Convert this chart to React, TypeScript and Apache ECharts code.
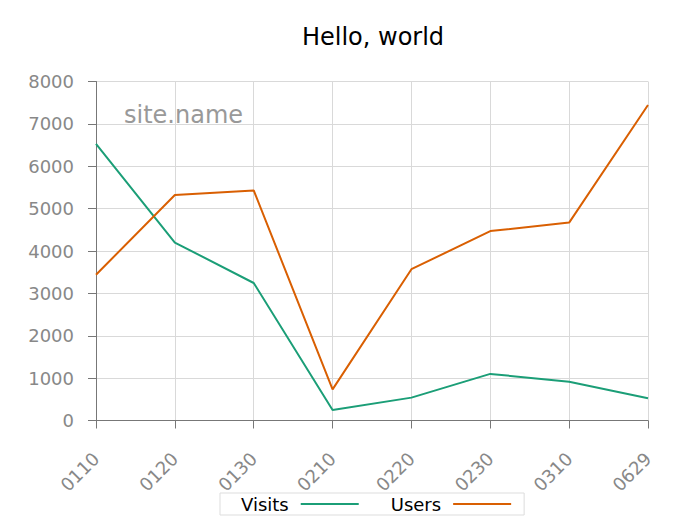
import React, { useEffect, useRef } from "react";
import * as echarts from "echarts";

const categories = ["0110", "0120", "0130", "0210", "0220", "0230", "0310", "0629"];
const visits = [6530, 4200, 3245, 250, 540, 1100, 915, 525];
const users = [3440, 5320, 5430, 735, 3570, 4470, 4670, 7445];
const yTicks = { min: 0, max: 8000, interval: 1000 };

const FONT = "DejaVu Sans";

export default function App() {
  const ref = useRef<HTMLDivElement>(null);
  useEffect(() => {
    if (!ref.current) return;
    const chart = echarts.init(ref.current, undefined, { renderer: "svg" });
    chart.setOption({
      animation: false,
      backgroundColor: "#ffffff",
      textStyle: { fontFamily: FONT },
      title: {
        text: "Hello, world",
        left: 368,
        top: 20,
        textAlign: "center",
        textStyle: { fontFamily: FONT, fontSize: 24, fontWeight: "normal", color: "#000000" },
      },
      graphic: [
        {
          type: "text",
          x: 124,
          y: 115,
          style: {
            text: "site.name",
            fontFamily: FONT,
            fontSize: 24,
            fill: "#999999",
            verticalAlign: "middle",
          },
        },
      ],
      legend: {
        left: 220,
        bottom: 9,
        align: "right",
        icon: "rect",
        itemWidth: 58,
        itemHeight: 2,
        itemGap: 32,
        padding: [2, 13, 2, 21],
        borderColor: "#dddddd",
        borderWidth: 1,
        textStyle: { fontFamily: FONT, fontSize: 18, color: "#000000", padding: [0, 7, 0, 0] },
        data: ["Visits", "Users"],
      },
      grid: {
        left: 96,
        right: 52,
        top: 81.5,
        bottom: 103.5,
        containLabel: false,
        outerBoundsMode: "none",
      },
      xAxis: {
        type: "category",
        data: categories,
        boundaryGap: false,
        axisLine: { show: true, lineStyle: { color: "#777777", width: 1 } },
        axisTick: { show: true, length: 8, alignWithLabel: true, lineStyle: { color: "#777777" } },
        axisLabel: {
          rotate: 45,
          fontSize: 18,
          color: "#888888",
          margin: 35,
          fontFamily: FONT,
        },
        splitLine: { show: true, lineStyle: { color: "#d9d9d9", width: 1 } },
      },
      yAxis: {
        type: "value",
        min: yTicks.min,
        max: yTicks.max,
        interval: yTicks.interval,
        axisLine: { show: true, lineStyle: { color: "#777777", width: 1 } },
        axisTick: { show: true, length: 8, lineStyle: { color: "#777777" } },
        axisLabel: {
          fontSize: 18,
          color: "#888888",
          margin: 22,
          fontFamily: FONT,
          formatter: (v: number) => String(v),
        },
        splitLine: { show: true, lineStyle: { color: "#d9d9d9", width: 1 } },
      },
      series: [
        {
          name: "Visits",
          type: "line",
          data: visits,
          showSymbol: false,
          symbol: "none",
          lineStyle: { color: "#1b9e77", width: 2 },
          itemStyle: { color: "#1b9e77" },
        },
        {
          name: "Users",
          type: "line",
          data: users,
          showSymbol: false,
          symbol: "none",
          lineStyle: { color: "#d95f02", width: 2 },
          itemStyle: { color: "#d95f02" },
        },
      ],
    });
    return () => chart.dispose();
  }, []);
  return (
    <div
      ref={ref}
      style={{ position: "absolute", left: 0, top: 0, width: 700, height: 524 }}
    />
  );
}
